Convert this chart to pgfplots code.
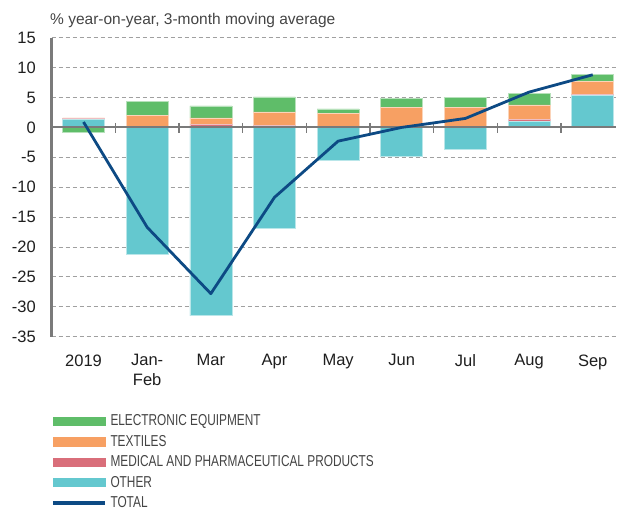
\documentclass[border=0pt]{standalone}
\usepackage{fontspec}
\setmainfont{Liberation Sans}
\newfontfamily\legfont[FakeStretch=0.75]{Liberation Sans}
\usepackage{pgfplots}
\pgfplotsset{compat=1.18}
\usepackage{pgfplotstable}

\definecolor{cGreen}{HTML}{5FBD69}
\definecolor{cOrange}{HTML}{F7A063}
\definecolor{cPink}{HTML}{D96E7A}
\definecolor{cCyan}{HTML}{64C8CF}
\definecolor{cNavy}{HTML}{0D4A84}
\definecolor{cAxis}{HTML}{7A7A7A}
\definecolor{cGrid}{HTML}{A0A0A0}
\definecolor{cText}{HTML}{1E1E1E}
\definecolor{cTitle}{HTML}{444444}

% positive parts (stacked upward)
\pgfplotstableread{
x O M T E
0 1.4 0.05 0.15 0
1 0 0.15 1.85 2.4
2 0 0.45 1.15 2.0
3 0 0.35 2.25 2.5
4 0 0.1 2.25 0.75
5 0 0.15 3.25 1.5
6 0 0.1 3.2 1.75
7 1.0 0.3 2.45 1.95
8 5.3 0.28 2.06 1.16
}\postab
% negative parts (stacked downward)
\pgfplotstableread{
x O E
0 0 -0.8
1 -21.2 0
2 -31.5 0
3 -16.8 0
4 -5.5 0
5 -4.85 0
6 -3.6 0
7 0 0
8 0 0
}\negtab
\pgfplotstableread{
x total
0 0.9
1 -16.7
2 -27.8
3 -11.7
4 -2.3
5 0.0
6 1.5
7 5.9
8 8.8
}\tottab

\pgfplotsset{
  base/.style={scale only axis, width=564.3pt, height=299pt,
    xmin=-0.5, xmax=8.366, ymin=-35, ymax=15,
    at={(0,0)}, anchor=south west},
  barsty/.style={ybar stacked, bar width=0.66},
}

\begin{document}
\begin{tikzpicture}
% grid, labels, positive bars
\begin{axis}[base, barsty, clip=false,
  axis line style={draw=none}, major tick length=0pt,
  ytick={-35,-30,...,15},
  xtick={0,...,8},
  xticklabels={2019,{Jan-\\Feb},Mar,Apr,May,Jun,Jul,Aug,Sep},
  ymajorgrids,
  grid style={dash pattern=on 4pt off 3pt, color=cGrid, line width=0.8pt},
  /pgf/number format/assume math mode=true,
  yticklabel style={font=\fontsize{16.5}{19.5}\selectfont, text=cText, anchor=east, inner sep=0pt, xshift=-15.7pt},
  xticklabel style={font=\fontsize{16.5}{19.5}\selectfont, text=cText, align=center, anchor=north, inner sep=0pt, yshift=-17.6pt},
]
\addplot[fill=cCyan, draw=cCyan!45!white, line width=0.6pt] table[x=x,y=O]{\postab};
\addplot[fill=cPink, draw=cPink!45!white, line width=0.6pt] table[x=x,y=M]{\postab};
\addplot[fill=cOrange, draw=cOrange!45!white, line width=0.6pt] table[x=x,y=T]{\postab};
\addplot[fill=cGreen, draw=cGreen!45!white, line width=0.6pt] table[x=x,y=E]{\postab};
\node[anchor=base west, font=\fontsize{15.5}{18}\selectfont, text=cTitle, inner sep=0pt, xshift=-1.7pt, yshift=13.5pt] at (rel axis cs:0,1) {\% year-on-year, 3-month moving average};
\end{axis}
% negative bars
\begin{axis}[base, barsty, hide axis]
\addplot[fill=cCyan, draw=cCyan!45!white, line width=0.6pt] table[x=x,y=O]{\negtab};
\addplot[fill=cGreen, draw=cGreen!45!white, line width=0.6pt] table[x=x,y=E]{\negtab};
\end{axis}
% axis lines, total line and legend
\begin{axis}[base, hide axis, clip=false,
  legend cell align=left,
  legend style={at={(axis description cs:0,0)}, anchor=north west, xshift=-0.7pt, yshift=-74.3pt,
    draw=none, fill=none, inner sep=0pt, outer sep=0pt, row sep=0pt, column sep=4pt,
    nodes={inner sep=0pt, minimum height=20.4pt, font=\legfont\fontsize{15.8}{18}\selectfont, text=cTitle}},
]
\draw[cAxis, line width=2.2pt] (axis cs:-0.5,0) -- (axis cs:8.366,0);
\draw[cAxis, line width=2.4pt] (axis cs:-0.5,-35) -- (axis cs:-0.5,15);
\draw[cAxis, line width=1.3pt] (axis cs:0.5,0.75) -- (axis cs:0.5,-1.0);
\draw[cAxis, line width=1.3pt] (axis cs:1.5,0.75) -- (axis cs:1.5,-1.0);
\draw[cAxis, line width=1.3pt] (axis cs:2.5,0.75) -- (axis cs:2.5,-1.0);
\draw[cAxis, line width=1.3pt] (axis cs:3.5,0.75) -- (axis cs:3.5,-1.0);
\draw[cAxis, line width=1.3pt] (axis cs:4.5,0.75) -- (axis cs:4.5,-1.0);
\draw[cAxis, line width=1.3pt] (axis cs:5.5,0.75) -- (axis cs:5.5,-1.0);
\draw[cAxis, line width=1.3pt] (axis cs:6.5,0.75) -- (axis cs:6.5,-1.0);
\draw[cAxis, line width=1.3pt] (axis cs:7.5,0.75) -- (axis cs:7.5,-1.0);
\addlegendimage{legend image code/.code={\fill[cGreen] (0pt,-4.2pt) rectangle (52pt,4.2pt);}}
\addlegendentry{ELECTRONIC EQUIPMENT}
\addlegendimage{legend image code/.code={\fill[cOrange] (0pt,-4.2pt) rectangle (52pt,4.2pt);}}
\addlegendentry{TEXTILES}
\addlegendimage{legend image code/.code={\fill[cPink] (0pt,-4.2pt) rectangle (52pt,4.2pt);}}
\addlegendentry{MEDICAL AND PHARMACEUTICAL PRODUCTS}
\addlegendimage{legend image code/.code={\fill[cCyan] (0pt,-4.2pt) rectangle (52pt,4.2pt);}}
\addlegendentry{OTHER}
\addplot[cNavy, line width=2.8pt, line join=round, mark=none,
  legend image code/.code={\draw[cNavy, line width=3.5pt] (0pt,0pt) -- (52pt,0pt);}]
  table[x=x,y=total]{\tottab};
\addlegendentry{TOTAL}
\end{axis}
\pgfresetboundingbox
\useasboundingbox (-51.7pt,-173.3pt) rectangle (565.3pt,336.7pt);
\end{tikzpicture}
\end{document}
